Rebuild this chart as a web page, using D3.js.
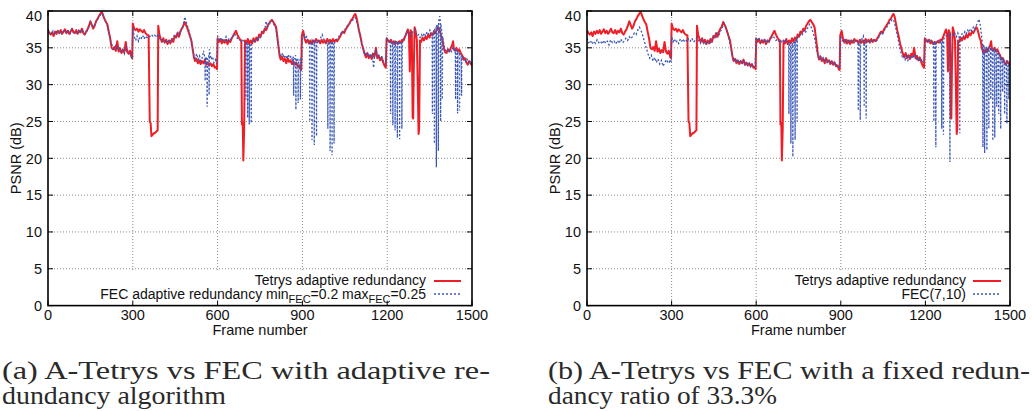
<!DOCTYPE html>
<html>
<head>
<meta charset="utf-8">
<script src="https://cdn.jsdelivr.net/npm/d3@7"></script>
<style>
  body { margin: 0; background: #fff; }
  svg { display: block; }
  .tick-label, .axis-title, .key-text { font-family: "Liberation Sans", Arial, sans-serif; fill: #111; }
  .caption { font-family: "Liberation Serif", "Times New Roman", serif; fill: #2a2a2a; }
</style>
</head>
<body>
<svg id="chart" width="1032" height="411"></svg>
<script>
// x / y tick values
const frameTicks = [0, 300, 600, 900, 1200, 1500];
const psnrTicks = [0, 5, 10, 15, 20, 25, 30, 35, 40];

// Tetrys adaptive redundancy (same run in both panels) : [frame, PSNR dB]
const tetrys = [
  [0,37.4],[5,37.0],[10,36.8],[15,37.1],[20,36.6],[25,37.2],[30,36.9],[35,37.3],[40,37.0],[45,37.4],
  [50,36.9],[55,37.2],[60,37.5],[65,37.0],[70,37.3],[75,36.9],[80,37.2],[85,37.6],[90,37.1],[95,37.0],
  [100,37.4],[105,36.9],[110,37.3],[115,37.1],[120,37.6],[125,37.0],[130,36.8],[135,37.2],[140,37.5],[145,38.0],
  [150,38.6],[155,38.1],[160,37.6],[165,38.0],[170,38.6],[175,38.9],[180,39.3],[185,39.6],[190,39.9],[195,39.4],
  [200,38.9],[205,38.5],[210,38.2],[215,37.2],[220,36.3],[225,35.0],[230,34.8],[235,35.1],[240,34.6],[245,35.9],
  [250,34.5],[255,34.9],[260,34.3],[265,34.7],[270,34.4],[275,35.8],[280,34.5],[285,34.2],[290,34.6],[295,33.8],
  [298,33.6],[300,38.3],[305,37.6],[310,37.4],[315,37.6],[320,37.2],[325,37.5],[330,37.3],[335,37.1],[340,37.4],
  [345,37.0],[350,36.8],[356,36.7],[360,25.0],[363,24.8],[366,23.0],[370,23.2],[375,23.4],[380,23.5],[385,23.7],
  [388,23.8],[390,38.0],[394,36.8],[398,36.3],[403,35.8],[408,36.3],[413,35.7],[418,36.1],[423,35.5],[428,36.0],
  [433,35.6],[438,36.2],[443,35.8],[448,36.6],[453,36.4],[458,37.0],[463,36.5],[468,37.2],[473,37.6],[478,37.9],
  [483,38.5],[487,38.2],[492,37.8],[497,37.2],[502,36.6],[507,36.0],[512,34.8],[516,33.8],[520,33.2],[525,33.5],
  [530,32.9],[535,33.3],[540,32.8],[545,33.2],[550,32.9],[555,33.4],[560,32.7],[565,33.0],[570,32.6],[575,32.9],
  [580,32.5],[585,32.8],[590,32.3],[595,32.4],[598,32.1],[600,36.3],[605,35.8],[610,36.2],[615,35.6],[620,36.0],
  [625,35.7],[630,36.1],[635,35.5],[640,36.0],[645,35.8],[650,36.3],[655,36.6],[660,37.0],[665,37.3],[670,36.8],
  [675,36.4],[680,36.1],[684,36.0],[686,24.6],[689,24.8],[691,19.7],[694,24.0],[697,36.0],[702,35.6],[707,36.2],
  [712,35.5],[717,36.0],[722,35.6],[727,36.3],[732,35.8],[737,36.4],[742,36.0],[747,36.8],[752,36.5],[757,37.2],
  [762,37.0],[767,37.6],[772,37.4],[777,38.0],[782,38.3],[787,38.6],[792,38.8],[797,38.5],[802,38.2],[807,37.8],
  [811,36.6],[815,35.3],[819,34.0],[823,33.4],[828,33.8],[833,33.2],[838,33.5],[843,32.9],[848,33.6],[853,33.1],
  [858,33.3],[863,32.8],[868,33.2],[873,32.7],[878,33.0],[883,32.5],[888,32.6],[893,32.1],[896,32.0],[898,36.7],
  [903,37.3],[908,36.2],[913,35.7],[918,36.1],[923,35.6],[928,36.0],[933,35.5],[938,36.0],[943,35.7],[948,36.2],
  [953,35.9],[958,36.0],[963,35.6],[968,36.1],[973,35.7],[978,36.0],[983,35.6],[988,36.2],[993,35.8],[998,36.1],
  [1003,35.7],[1008,36.2],[1013,35.8],[1018,36.1],[1023,35.9],[1028,36.2],[1033,36.5],[1038,36.9],[1043,37.2],[1048,37.0],
  [1053,37.5],[1058,37.8],[1063,38.1],[1068,38.4],[1073,38.8],[1078,39.0],[1083,39.4],[1087,39.6],[1091,39.2],[1095,38.4],
  [1100,37.4],[1105,36.6],[1110,35.6],[1115,34.9],[1120,34.2],[1125,33.7],[1130,34.3],[1135,33.6],[1140,34.0],[1145,33.5],
  [1150,34.2],[1155,33.8],[1160,35.0],[1165,33.6],[1170,33.9],[1175,33.3],[1180,33.7],[1185,33.1],[1190,32.6],[1195,32.3],
  [1198,36.3],[1203,36.0],[1208,35.8],[1213,36.1],[1218,35.6],[1223,35.9],[1228,35.5],[1233,35.8],[1238,35.6],[1243,35.9],
  [1248,35.7],[1253,36.1],[1258,36.0],[1263,36.5],[1268,37.0],[1273,37.5],[1277,36.8],[1280,31.8],[1283,37.4],[1287,37.0],
  [1290,25.6],[1292,25.4],[1294,32.0],[1297,37.8],[1301,37.2],[1305,36.0],[1308,30.0],[1311,23.3],[1313,24.0],[1316,36.0],
  [1320,35.8],[1325,36.4],[1330,36.0],[1335,36.5],[1340,36.2],[1345,36.8],[1350,36.4],[1355,37.0],[1360,36.7],[1365,37.2],
  [1370,37.0],[1375,37.4],[1380,37.8],[1384,37.6],[1388,37.0],[1392,36.4],[1396,36.0],[1400,35.0],[1405,34.4],[1410,34.3],
  [1415,34.8],[1420,34.5],[1425,35.0],[1430,35.4],[1433,35.9],[1436,34.8],[1440,34.6],[1445,35.0],[1450,34.5],[1455,34.8],
  [1460,34.3],[1465,34.0],[1470,33.4],[1475,33.6],[1480,33.0],[1485,32.7],[1490,33.2],[1495,32.9],[1500,32.6]
];

// FEC adaptive redundancy minFEC=0.2 maxFEC=0.25 (panel a)
const fecAdaptive = [
  [0,37.6],[6,37.0],[12,36.9],[18,37.3],[24,36.8],[30,37.2],[36,37.0],[42,37.3],[48,36.9],[54,37.2],
  [60,37.4],[66,37.0],[72,37.3],[78,36.9],[84,37.5],[90,37.1],[96,37.2],[102,37.0],[108,37.4],[114,37.0],
  [120,37.5],[126,37.1],[132,36.9],[138,37.3],[144,37.8],[150,38.4],[156,38.0],[162,37.8],[168,38.4],[174,38.8],
  [180,39.2],[186,39.5],[192,39.7],[198,39.2],[204,38.6],[210,38.0],[216,37.0],[222,35.8],[228,35.2],[234,34.8],
  [240,35.3],[246,34.7],[252,35.0],[258,34.5],[264,34.8],[270,34.2],[276,35.2],[282,34.6],[288,34.3],[294,34.0],
  [298,33.5],[300,37.8],[305,36.5],[310,36.0],[315,36.6],[320,35.9],[325,36.5],[330,36.3],[335,36.7],[340,36.2],
  [345,36.6],[350,36.4],[355,36.6],[360,36.5],[366,36.8],[372,36.5],[378,36.7],[384,36.4],[390,36.9],[395,36.3],
  [400,35.9],[406,36.2],[412,35.8],[418,36.0],[424,35.6],[430,36.1],[436,35.8],[442,36.3],[448,36.8],[454,36.5],
  [460,37.1],[466,36.8],[472,37.4],[478,38.0],[484,39.2],[488,38.6],[493,38.0],[498,37.4],[503,36.6],[508,35.8],
  [512,34.6],[516,34.0],[521,33.6],[526,34.2],[531,33.4],[536,33.9],[541,33.2],[546,33.7],[550,34.6],[555,33.6],
  [556,30.5],[557,33.8],[562,33.4],[563,27.0],[564,33.6],[569,33.9],[570,28.6],[571,34.8],[577,33.4],[582,33.8],
  [587,33.0],[592,33.4],[597,32.8],[600,36.6],[605,36.1],[610,36.4],[615,35.9],[620,36.3],[625,36.0],[630,36.5],
  [635,35.8],[640,36.2],[645,36.0],[650,36.4],[655,36.6],[660,36.9],[665,36.6],[670,36.3],[675,36.1],[680,36.0],
  [685,35.8],[690,36.0],[695,35.7],[699,35.6],[700,28.0],[701,35.5],[705,35.8],[706,25.5],[707,35.6],[711,35.2],
  [712,24.6],[713,35.6],[718,35.0],[719,24.8],[720,35.6],[727,36.0],[732,35.8],[737,36.3],[742,36.0],
  [747,36.6],[752,36.4],[757,37.0],[762,37.2],[767,37.5],[772,38.6],[777,37.8],[782,38.2],[787,38.5],[792,38.7],
  [797,38.3],[802,38.0],[807,37.5],[812,36.0],[816,34.8],[820,34.2],[825,33.8],[830,34.3],[835,33.6],[840,34.0],
  [845,33.5],[850,34.1],[855,33.6],[860,33.9],[864,33.4],[868,33.8],[869,28.5],[870,33.5],[876,34.0],[877,26.6],
  [878,33.2],[884,33.6],[885,27.5],[886,33.0],[892,33.4],[893,28.0],[894,33.0],
  [897,33.0],[900,36.5],[905,36.8],[910,36.2],[915,36.5],[920,36.0],[925,35.8],[926,25.0],[927,35.8],[933,35.5],
  [934,22.5],[935,36.0],[941,35.6],[942,21.8],[943,35.8],[949,35.4],[950,23.0],[951,36.0],
  [955,35.6],[960,36.0],[965,36.4],[970,36.8],[975,36.2],[980,36.0],[985,35.8],
  [989,35.6],[990,24.0],[991,35.8],[997,35.5],[998,21.0],[999,35.9],[1004,35.6],[1005,20.4],[1006,35.8],
  [1011,35.4],[1012,22.0],[1013,35.6],[1017,36.0],[1022,36.2],[1027,36.4],[1032,36.7],[1037,37.0],
  [1042,37.3],[1047,37.1],[1052,37.6],[1057,37.9],[1062,38.1],[1067,38.3],[1072,38.6],[1077,38.7],[1082,39.0],[1087,39.1],
  [1092,38.6],[1097,37.8],[1102,37.0],[1107,36.2],[1112,35.4],[1117,34.5],[1122,34.0],[1127,34.4],[1132,33.8],[1137,34.2],
  [1142,33.7],[1147,34.1],[1152,32.3],[1155,33.9],[1160,34.8],[1165,33.7],[1170,34.0],[1175,33.5],[1180,33.9],[1185,33.3],
  [1190,33.0],[1195,32.8],[1198,36.4],[1203,36.0],[1207,35.8],[1211,35.6],[1212,26.0],[1213,36.0],[1219,35.4],
  [1220,24.5],[1221,35.8],[1227,35.5],[1228,23.8],[1229,36.0],[1235,35.6],[1236,22.8],[1237,35.8],
  [1243,35.4],[1244,22.6],[1245,35.8],[1251,35.6],[1252,24.0],[1253,35.6],[1256,36.0],[1261,36.4],
  [1266,36.8],[1271,37.2],[1276,36.8],[1281,37.0],[1286,36.6],[1291,37.2],[1296,37.5],[1301,37.0],[1306,36.6],[1311,36.8],
  [1316,36.4],[1321,36.8],[1326,36.5],[1331,37.0],[1336,36.6],[1341,37.2],[1346,36.9],[1351,37.4],[1355,37.0],
  [1359,36.5],[1360,26.0],[1361,37.0],[1366,37.4],[1367,22.0],[1368,37.6],[1373,37.8],[1374,18.8],[1375,38.0],
  [1380,38.2],[1381,21.0],[1382,38.6],[1386,39.3],[1388,38.5],[1389,25.0],[1390,38.2],[1394,37.0],[1395,28.0],[1396,36.6],
  [1398,36.0],[1403,35.0],[1408,34.6],[1413,34.9],[1418,34.4],[1423,34.8],[1428,34.5],[1433,35.2],[1437,34.6],
  [1441,34.8],[1442,28.0],[1443,34.6],[1448,34.6],[1449,26.1],[1450,34.4],[1455,34.4],[1456,26.5],[1457,34.2],
  [1462,34.0],[1463,28.5],[1464,33.8],[1468,33.8],[1472,33.6],[1477,33.2],[1482,33.5],[1487,33.0],[1492,33.3],[1497,32.8],[1500,33.0]
];

// FEC(7,10) fixed redundancy (panel b)
const fec710 = [
  [0,36.3],[6,35.7],[12,36.0],[18,35.5],[24,35.9],[30,35.6],[36,36.1],[42,35.7],[48,35.9],[54,35.5],
  [60,36.0],[66,35.6],[72,35.9],[78,35.4],[84,36.1],[90,35.7],[96,35.9],[102,35.5],[108,36.0],[114,35.6],
  [120,36.2],[126,35.7],[132,35.9],[138,36.3],[144,36.0],[150,36.5],[156,36.2],[162,36.6],[168,37.0],[174,36.8],
  [180,37.4],[186,37.8],[192,37.3],[198,36.6],[204,35.8],[210,35.0],[216,34.2],[222,33.6],[228,34.0],[234,33.2],
  [240,33.7],[246,33.0],[252,33.5],[258,32.8],[264,33.3],[270,32.5],[276,33.0],[282,33.4],[288,32.9],[294,33.2],
  [298,33.0],[300,36.6],[305,35.8],[310,36.2],[315,35.7],[320,36.0],[325,35.6],[330,36.1],[335,35.8],[340,36.2],
  [345,35.9],[350,36.1],[355,35.8],[360,36.2],[366,35.9],[372,36.3],[378,35.8],[384,36.0],[390,36.4],[396,36.0],
  [402,35.6],[408,36.1],[414,35.6],[420,35.9],[426,35.5],[432,36.0],[438,35.7],[444,36.2],[450,36.6],[456,36.3],
  [462,37.0],[468,36.7],[474,37.3],[480,37.8],[486,38.3],[491,37.9],[496,37.3],[501,36.7],[506,35.8],[511,34.8],
  [516,33.8],[521,33.2],[526,33.6],[531,33.0],[536,33.4],[541,32.9],[546,33.3],[551,32.8],[556,33.2],[561,32.7],
  [566,33.0],[571,32.6],[576,32.9],[581,32.4],[586,32.7],[591,32.3],[596,32.5],[600,36.4],[605,35.9],[610,36.2],
  [615,35.7],[620,36.1],[625,35.8],[630,36.2],[635,35.6],[640,36.0],[645,35.8],[650,36.2],[655,36.4],[660,36.6],
  [665,36.3],[670,36.0],[675,36.2],[680,35.9],[685,36.1],[690,35.8],[695,36.0],[700,35.6],[705,36.2],[710,35.8],
  [715,35.6],[716,26.0],[717,35.4],[722,35.8],[723,22.0],[724,35.2],[729,35.5],[730,20.2],[731,35.5],
  [737,35.8],[738,22.5],[739,36.0],[744,36.3],[745,25.0],[746,36.3],[749,36.5],[754,36.6],
  [759,37.0],[764,36.8],[769,37.3],[774,37.0],[779,37.5],[784,37.8],[789,38.2],[794,37.9],[799,37.4],[804,36.8],
  [809,36.0],[813,35.0],[817,34.2],[821,33.6],[826,34.0],[831,33.4],[836,33.8],[841,33.2],[846,33.6],[851,33.0],
  [856,33.4],[861,32.9],[866,33.2],[871,32.8],[876,33.1],[881,32.6],[886,32.8],[891,32.4],[896,32.2],[899,36.6],
  [904,36.2],[909,35.8],[914,36.1],[919,35.6],[924,36.0],[929,35.7],[934,36.1],[939,35.8],[944,36.0],[949,35.6],
  [954,35.9],[961,35.8],[962,26.5],[963,35.6],[968,35.9],[969,25.2],[970,35.7],[976,36.3],[980,36.6],
  [982,35.8],[983,27.0],[984,36.0],[989,36.0],[990,25.4],[991,35.8],[998,36.0],
  [1003,35.7],[1008,36.0],[1013,35.8],[1018,36.1],[1023,35.9],[1028,36.0],[1033,36.3],[1038,36.7],[1043,37.0],[1048,36.8],
  [1053,37.3],[1058,37.6],[1063,37.8],[1068,38.1],[1073,38.4],[1078,38.6],[1083,38.9],[1088,38.7],[1093,38.0],[1098,37.2],
  [1103,36.2],[1108,35.2],[1113,34.4],[1118,33.8],[1123,34.0],[1128,33.4],[1133,33.9],[1138,33.3],[1143,33.8],[1148,33.5],
  [1153,34.0],[1158,33.6],[1163,34.2],[1168,33.5],[1173,33.8],[1178,33.2],[1183,33.6],[1188,33.0],[1193,33.3],[1197,33.5],
  [1200,36.3],[1205,35.9],[1210,36.2],[1215,35.7],[1220,36.0],[1225,35.6],[1229,35.5],[1230,25.0],[1231,35.8],
  [1236,35.4],[1237,21.5],[1238,35.8],[1245,36.0],[1250,35.6],[1257,35.9],[1258,24.0],[1259,35.6],
  [1263,36.0],[1264,23.2],[1265,36.2],[1271,36.5],[1276,36.8],[1280,37.0],[1286,36.8],[1287,19.5],[1288,36.8],[1295,37.0],
  [1300,36.6],[1305,36.9],[1310,36.5],[1315,37.0],[1321,36.2],[1322,23.4],[1323,36.6],[1330,36.9],[1335,36.5],[1340,37.2],
  [1345,36.9],[1350,37.4],[1355,37.1],[1360,37.6],[1365,37.3],[1370,37.8],[1375,37.5],[1380,38.0],[1385,38.4],[1390,38.9],
  [1394,38.2],[1398,37.0],[1401,36.0],[1403,35.6],[1404,21.5],[1405,35.5],[1409,35.0],[1410,20.7],[1411,35.0],
  [1417,35.2],[1418,21.1],[1419,34.8],[1424,35.0],[1425,24.0],[1426,35.0],[1431,35.2],[1432,28.0],[1433,34.9],
  [1438,34.8],[1439,22.4],[1440,34.6],[1445,35.0],[1446,22.8],[1447,34.8],[1452,34.5],[1453,27.0],[1454,34.4],
  [1459,34.2],[1460,26.0],[1461,34.0],[1466,33.8],[1467,24.0],[1468,33.6],[1473,33.8],[1474,29.0],[1475,33.5],
  [1480,33.2],[1481,26.0],[1482,33.0],[1488,33.2],[1489,24.7],[1490,33.0],[1495,32.8],[1496,28.0],[1497,32.9],[1500,32.9]
];

const RED = "#ee1d26";
const BLUE = "#3a58b8";

const svg = d3.select("#chart");

const panels = [
  {
    id: "a", left: 48, right: 472, top: 11, bottom: 305.6,
    fec: fecAdaptive, keyLeft: 80, keyTextEnd: 426, keySample: [434, 461],
    caption: ["(a) A-Tetrys vs FEC with adaptive re-", "dundancy algorithm"],
    capX: 2, capW: [488, 224]
  },
  {
    id: "b", left: 587, right: 1010, top: 11, bottom: 305.6,
    fec: fec710, keyLeft: 780, keyTextEnd: 966, keySample: [973, 1001],
    caption: ["(b) A-Tetrys vs FEC with a fixed redun-", "dancy ratio of 33.3%"],
    capX: 548, capW: [482, 229]
  }
];

function drawPanel(p) {
  const g = svg.append("g");
  const x = d3.scaleLinear().domain([0, 1500]).range([p.left, p.right]);
  const y = d3.scaleLinear().domain([0, 40]).range([p.bottom, p.top]);

  // grid
  g.append("g").selectAll("line").data(frameTicks.slice(1, -1)).join("line")
    .attr("x1", d => x(d)).attr("x2", d => x(d))
    .attr("y1", p.top).attr("y2", p.bottom)
    .attr("stroke", "#8a8a8a").attr("stroke-width", 1).attr("stroke-dasharray", "1,2");
  g.append("g").selectAll("line").data(psnrTicks.slice(1, -1)).join("line")
    .attr("x1", p.left).attr("x2", p.right)
    .attr("y1", d => y(d)).attr("y2", d => y(d))
    .attr("stroke", "#8a8a8a").attr("stroke-width", 1).attr("stroke-dasharray", "1,2");

  // key box hides the grid behind it
  g.append("rect").attr("x", p.keyLeft).attr("y", 272)
    .attr("width", p.right - p.keyLeft).attr("height", p.bottom - 272)
    .attr("fill", "#fff");

  // ticks, mirrored on all sides
  const tk = g.append("g").attr("stroke", "#000").attr("stroke-width", 1);
  frameTicks.forEach(d => {
    tk.append("line").attr("x1", x(d)).attr("x2", x(d)).attr("y1", p.bottom).attr("y2", p.bottom - 5);
    tk.append("line").attr("x1", x(d)).attr("x2", x(d)).attr("y1", p.top).attr("y2", p.top + 5);
  });
  psnrTicks.forEach(d => {
    tk.append("line").attr("x1", p.left).attr("x2", p.left + 5).attr("y1", y(d)).attr("y2", y(d));
    tk.append("line").attr("x1", p.right).attr("x2", p.right - 5).attr("y1", y(d)).attr("y2", y(d));
  });

  // series
  const clipId = "clip-" + p.id;
  svg.append("clipPath").attr("id", clipId).append("rect")
    .attr("x", p.left).attr("y", p.top).attr("width", p.right - p.left).attr("height", p.bottom - p.top);
  const line = d3.line().x(d => x(d[0])).y(d => y(d[1]));
  const plot = g.append("g").attr("clip-path", `url(#${clipId})`);
  plot.append("path").datum(tetrys).attr("d", line)
    .attr("fill", "none").attr("stroke", RED).attr("stroke-width", 2)
    .attr("stroke-linejoin", "round");
  plot.append("path").datum(p.fec).attr("d", line)
    .attr("fill", "none").attr("stroke", BLUE).attr("stroke-width", 1.3)
    .attr("stroke-dasharray", "2,2");

  // frame
  g.append("rect").attr("x", p.left).attr("y", p.top)
    .attr("width", p.right - p.left).attr("height", p.bottom - p.top)
    .attr("fill", "none").attr("stroke", "#000").attr("stroke-width", 1.6);

  // tick labels
  g.append("g").selectAll("text").data(frameTicks).join("text")
    .attr("class", "tick-label")
    .attr("x", d => x(d)).attr("y", 320)
    .attr("text-anchor", "middle").attr("font-size", 14.5)
    .text(d => d);
  g.append("g").selectAll("text").data(psnrTicks).join("text")
    .attr("class", "tick-label")
    .attr("x", p.left - 6).attr("y", d => Math.max(y(d), 15.5))
    .attr("dy", "0.36em")
    .attr("text-anchor", "end").attr("font-size", 14.5)
    .text(d => d);

  // axis titles
  g.append("text").attr("class", "axis-title")
    .attr("x", (p.left + p.right) / 2).attr("y", 335)
    .attr("text-anchor", "middle").attr("font-size", 14.5)
    .text("Frame number");
  g.append("text").attr("class", "axis-title")
    .attr("transform", `translate(${p.left - 27},${(p.top + p.bottom) / 2}) rotate(-90)`)
    .attr("text-anchor", "middle").attr("font-size", 14.5)
    .text("PSNR (dB)");

  // key
  g.append("text").attr("class", "key-text")
    .attr("x", p.keyTextEnd).attr("y", 284.5)
    .attr("text-anchor", "end").attr("font-size", 14)
    .text("Tetrys adaptive redundancy");
  g.append("line")
    .attr("x1", p.keySample[0]).attr("x2", p.keySample[1]).attr("y1", 281).attr("y2", 281)
    .attr("stroke", RED).attr("stroke-width", 2);

  const k2 = g.append("text").attr("class", "key-text")
    .attr("x", p.keyTextEnd).attr("y", 298.5)
    .attr("text-anchor", "end").attr("font-size", 14);
  if (p.id === "a") {
    k2.append("tspan").text("FEC adaptive redundancy min");
    k2.append("tspan").attr("dy", 4).attr("font-size", 11).text("FEC");
    k2.append("tspan").attr("dy", -4).text("=0.2 max");
    k2.append("tspan").attr("dy", 4).attr("font-size", 11).text("FEC");
    k2.append("tspan").attr("dy", -4).text("=0.25");
  } else {
    k2.text("FEC(7,10)");
  }
  g.append("line")
    .attr("x1", p.keySample[0]).attr("x2", p.keySample[1]).attr("y1", 294).attr("y2", 294)
    .attr("stroke", BLUE).attr("stroke-width", 1.3).attr("stroke-dasharray", "2,2");

  // caption
  p.caption.forEach((c, i) => {
    g.append("text").attr("class", "caption")
      .attr("x", p.capX).attr("y", i === 0 ? 379 : 404)
      .attr("font-size", 24.5)
      .attr("textLength", p.capW[i]).attr("lengthAdjust", "spacingAndGlyphs")
      .text(c);
  });
}

panels.forEach(drawPanel);
</script>
</body>
</html>
